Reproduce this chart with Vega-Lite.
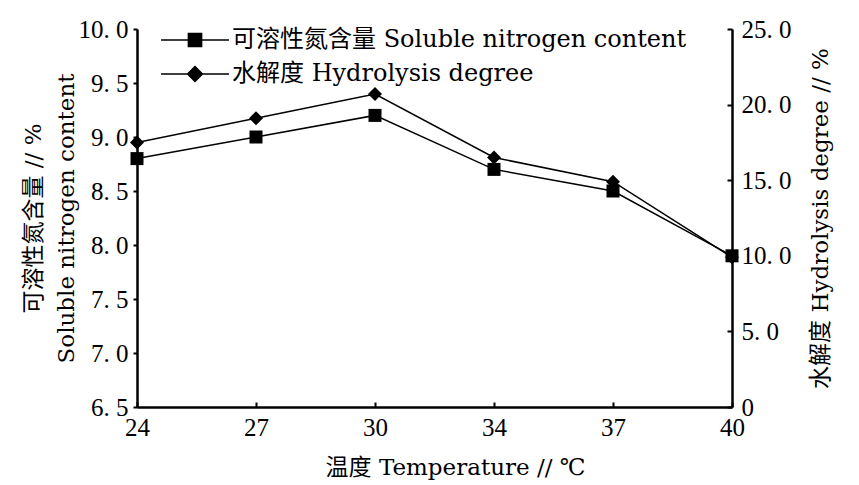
{
  "$schema": "https://vega.github.io/schema/vega-lite/v6.json",
  "width": 595,
  "height": 378,
  "autosize": {"type": "none"},
  "padding": {"left": 137, "top": 29, "right": 127, "bottom": 78},
  "background": "white",
  "config": {
    "view": {"stroke": null},
    "axis": {
      "domainColor": "black",
      "domainWidth": 2.5,
      "tickColor": "black",
      "tickWidth": 2,
      "labelColor": "black",
      "titleColor": "black",
      "labelFont": "Liberation Serif",
      "labelFontSize": 25,
      "titleFont": "DejaVu Serif, Noto Sans CJK SC",
      "titleFontSize": 23,
      "titleFontWeight": "normal",
      "grid": false
    },
    "legend": {
      "orient": "none",
      "title": null,
      "symbolSize": 576,
      "labelOffset": 24,
      "labelFont": "DejaVu Serif, Noto Sans CJK SC",
      "labelFontSize": 24,
      "labelColor": "black",
      "labelLimit": 700,
      "symbolFillColor": "black",
      "symbolStrokeColor": "black",
      "symbolStrokeWidth": 1.5,
      "symbolOpacity": 1
    }
  },
  "data": {
    "values": [
      {"T": "24", "N": 8.8, "H": 17.5},
      {"T": "27", "N": 9.0, "H": 19.1},
      {"T": "30", "N": 9.2, "H": 20.7},
      {"T": "34", "N": 8.7, "H": 16.5},
      {"T": "37", "N": 8.5, "H": 14.9},
      {"T": "40", "N": 7.9, "H": 9.9}
    ]
  },
  "encoding": {
    "x": {
      "field": "T",
      "type": "ordinal",
      "sort": null,
      "scale": {"type": "point", "padding": 0},
      "axis": {
        "labelAngle": 0,
        "title": "温度 Temperature // ℃",
        "tickSize": -5,
        "labelPadding": 13,
        "titlePadding": 16,
        "titleX": 318,
        "titleAlign": "center"
      }
    }
  },
  "layer": [
    {
      "encoding": {
        "y": {
          "field": "N",
          "type": "quantitative",
          "scale": {"domain": [6.5, 10], "nice": false, "zero": false},
          "axis": {
            "orient": "left",
            "values": [6.5, 7, 7.5, 8, 8.5, 9, 9.5, 10],
            "labelExpr": "replace(format(datum.value, '.1f'), '.', '. ')",
            "tickSize": 4,
            "labelPadding": 5,
            "title": ["可溶性氮含量 // %", "Soluble nitrogen content"],
            "titleLineHeight": 33,
            "titlePadding": 0
          }
        }
      },
      "layer": [
        {"mark": {"type": "line", "color": "black", "strokeWidth": 1.5}},
        {
          "mark": {"type": "point", "filled": true, "shape": "square", "opacity": 1, "size": 169},
          "encoding": {
            "color": {
              "datum": "可溶性氮含量 Soluble nitrogen content",
              "scale": {"range": ["black"]},
              "legend": {
                "legendX": 45,
                "legendY": -2,
                "symbolType": "M-2.83,0H2.83M-0.55,-0.55H0.55V0.55H-0.55Z"
              }
            }
          }
        }
      ]
    },
    {
      "encoding": {
        "y": {
          "field": "H",
          "type": "quantitative",
          "scale": {"domain": [0, 25], "nice": false},
          "axis": {
            "orient": "right",
            "values": [0, 5, 10, 15, 20, 25],
            "labelExpr": "datum.value === 0 ? '0' : replace(format(datum.value, '.1f'), '.', '. ')",
            "tickSize": -5,
            "labelPadding": 14,
            "title": "水解度 Hydrolysis degree // %",
            "titleAngle": -90,
            "titleBaseline": "top",
            "titlePadding": 18
          }
        }
      },
      "layer": [
        {"mark": {"type": "line", "color": "black", "strokeWidth": 1.5}},
        {
          "mark": {"type": "point", "filled": true, "shape": "diamond", "opacity": 1, "size": 196},
          "encoding": {
            "color": {
              "datum": "水解度 Hydrolysis degree",
              "scale": {"range": ["black"]},
              "legend": {
                "legendX": 45,
                "legendY": 32,
                "symbolType": "M-2.83,0H2.83M0,-0.62L0.62,0L0,0.62L-0.62,0Z"
              }
            }
          }
        }
      ]
    }
  ],
  "resolve": {
    "scale": {"y": "independent", "color": "independent"},
    "legend": {"color": "independent"}
  }
}
